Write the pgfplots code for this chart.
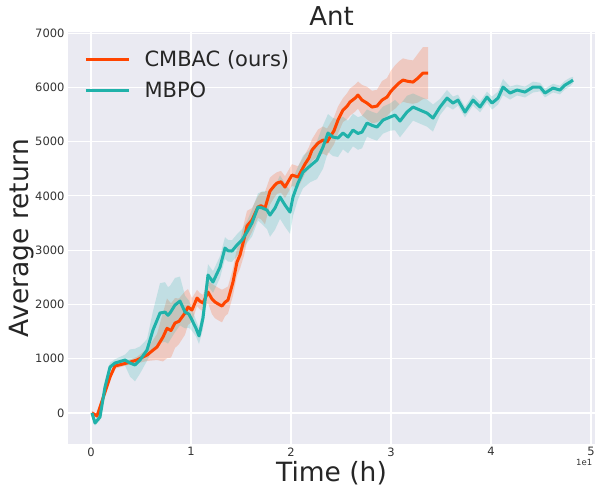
\documentclass[border=0pt]{standalone}
\usepackage{fontspec}
\setmainfont{DejaVu Sans}
\usepackage{pgfplots}
\usepackage{pgfplotstable}
\pgfplotsset{compat=1.18}
\usepgfplotslibrary{fillbetween}
\definecolor{bg}{HTML}{EAEAF2}
\definecolor{cmbaccol}{HTML}{FF4500}
\definecolor{mbpocol}{HTML}{20B2AA}
\definecolor{tk}{HTML}{333333}

\pgfplotstableread{
x y e
0.01 0 40
0.06 -55 40
0.12 276 60
0.19 663 60
0.24 866 50
0.36 921 40
0.46 976 60
0.56 1068 110
0.66 1216 240
0.72 1400 450
0.76 1560 550
0.80 1520 500
0.84 1658 460
0.88 1690 420
0.94 1842 400
0.97 1953 330
1.01 1897 220
1.06 2118 150
1.09 2060 150
1.12 2026 150
1.17 2229 200
1.21 2100 280
1.24 2045 300
1.28 2000 300
1.31 1971 300
1.34 2040 260
1.37 2082 250
1.42 2413 250
1.46 2781 250
1.49 2910 250
1.53 3200 300
1.56 3445 280
1.61 3555 220
1.67 3795 200
1.70 3820 250
1.74 3776 300
1.79 4089 250
1.83 4180 220
1.86 4237 200
1.90 4260 200
1.94 4163 200
2.01 4384 200
2.07 4347 200
2.14 4587 180
2.18 4700 200
2.21 4845 200
2.27 4973 250
2.32 5029 250
2.36 4990 250
2.39 5084 250
2.43 5200 250
2.47 5397 250
2.52 5581 220
2.56 5650 240
2.59 5729 250
2.64 5800 250
2.67 5858 250
2.71 5765 280
2.76 5710 300
2.81 5637 300
2.86 5655 300
2.91 5765 350
2.96 5821 350
3.00 5930 380
3.04 6005 400
3.08 6080 400
3.12 6134 400
3.17 6110 400
3.22 6097 400
3.27 6171 450
3.32 6263 480
3.37 6263 480
}\cmbac

\pgfplotstableread{
x y e
0.01 0 40
0.04 -184 50
0.09 -74 60
0.14 479 80
0.19 847 80
0.24 921 70
0.34 976 100
0.39 921 250
0.44 884 300
0.49 976 250
0.56 1160 200
0.62 1529 350
0.69 1842 550
0.74 1860 550
0.77 1800 520
0.79 1842 500
0.84 1989 500
0.89 2063 450
0.94 1860 300
0.98 1820 250
1.01 1713 200
1.05 1560 150
1.08 1420 150
1.12 1750 200
1.17 2542 200
1.22 2413 200
1.29 2689 200
1.34 3039 200
1.37 2990 200
1.41 2984 200
1.46 3095 200
1.51 3187 200
1.56 3334 200
1.61 3500 250
1.67 3795 250
1.71 3780 300
1.76 3739 350
1.79 3647 400
1.84 3776 400
1.89 3979 400
1.94 3831 400
1.99 3702 400
2.02 3979 350
2.07 4237 300
2.12 4439 300
2.19 4550 300
2.26 4660 350
2.32 4900 400
2.37 5158 350
2.42 5084 350
2.47 5066 350
2.52 5158 300
2.57 5084 300
2.62 5213 300
2.67 5150 300
2.71 5176 300
2.76 5342 250
2.81 5300 250
2.86 5268 250
2.92 5397 250
2.99 5452 250
3.04 5489 280
3.09 5379 300
3.16 5545 300
3.22 5637 250
3.29 5581 250
3.36 5526 250
3.42 5434 250
3.49 5637 150
3.56 5802 150
3.62 5710 120
3.67 5765 100
3.74 5545 100
3.82 5765 100
3.89 5637 100
3.96 5821 100
4.01 5710 120
4.07 5802 120
4.12 6005 150
4.19 5895 120
4.26 5950 100
4.34 5913 100
4.42 6005 100
4.49 6005 80
4.54 5895 80
4.62 5987 80
4.69 5950 80
4.74 6042 80
4.79 6097 80
4.82 6134 60
}\mbpo

\begin{document}
\begin{tikzpicture}
\begin{axis}[
  at={(0,0)}, anchor=south west,
  scale only axis, width=527pt, height=412pt,
  xmin=-0.23, xmax=5.04, ymin=-571, ymax=7020,
  axis background/.style={fill=bg},
  axis line style={draw=none},
  grid=major, major grid style={white, line width=1.1pt},
  tick style={draw=none},
  xtick={0,1,2,3,4,5}, ytick={0,1000,2000,3000,4000,5000,6000,7000},
  ticklabel style={font=\fontsize{11.5}{13}\selectfont, text=tk},
  /pgf/number format/assume math mode=true,
  /pgf/number format/1000 sep={},
  title={Ant},
  title style={font=\fontsize{26}{30}\selectfont, text=black!85, at={(axis description cs:0.5,1.023)}, anchor=center, yshift=0pt},
  xlabel={Time (h)},
  xlabel style={font=\fontsize{26.5}{30}\selectfont, text=black!85, at={(axis description cs:0.5,-0.0704)}, anchor=center},
  ylabel={Average return},
  ylabel style={font=\fontsize{26.5}{30}\selectfont, text=black!85, at={(axis description cs:-0.0873,0.5)}, anchor=center},
  legend style={at={(axis description cs:0.0247,0.965)}, anchor=north west, draw=none, fill=none,
    font=\fontsize{21}{24}\selectfont, text=black!85, row sep=10pt,
    /tikz/every odd column/.style={column sep=12pt}},
  legend cell align=left,
  legend image code/.code={\draw[#1, line width=3.3pt] (0pt,0pt) -- (43pt,0pt);},
  clip=false,
]
\addplot[name path=cu, draw=none, forget plot] table[x=x, y expr=\thisrow{y}+\thisrow{e}] {\cmbac};
\addplot[name path=cl, draw=none, forget plot] table[x=x, y expr=\thisrow{y}-\thisrow{e}] {\cmbac};
\addplot[fill=cmbaccol, fill opacity=0.2, draw=none, forget plot] fill between[of=cu and cl];
\addplot[name path=mu, draw=none, forget plot] table[x=x, y expr=\thisrow{y}+\thisrow{e}] {\mbpo};
\addplot[name path=ml, draw=none, forget plot] table[x=x, y expr=\thisrow{y}-\thisrow{e}] {\mbpo};
\addplot[fill=mbpocol, fill opacity=0.2, draw=none, forget plot] fill between[of=mu and ml];
\addplot[cmbaccol, line width=3pt, line join=round] table[x=x, y=y] {\cmbac};
\addlegendentry{CMBAC (ours)}
\addplot[mbpocol, line width=3pt, line join=round] table[x=x, y=y] {\mbpo};
\addlegendentry{MBPO}
\node[font=\fontsize{8.5}{9}\selectfont, text=tk, anchor=east, inner sep=1pt] at (axis description cs:0.997,-0.046) {1e1};
\end{axis}
\pgfresetboundingbox
\path[use as bounding box] (-68pt,-45pt) rectangle (527pt,444pt);
\end{tikzpicture}
\end{document}
